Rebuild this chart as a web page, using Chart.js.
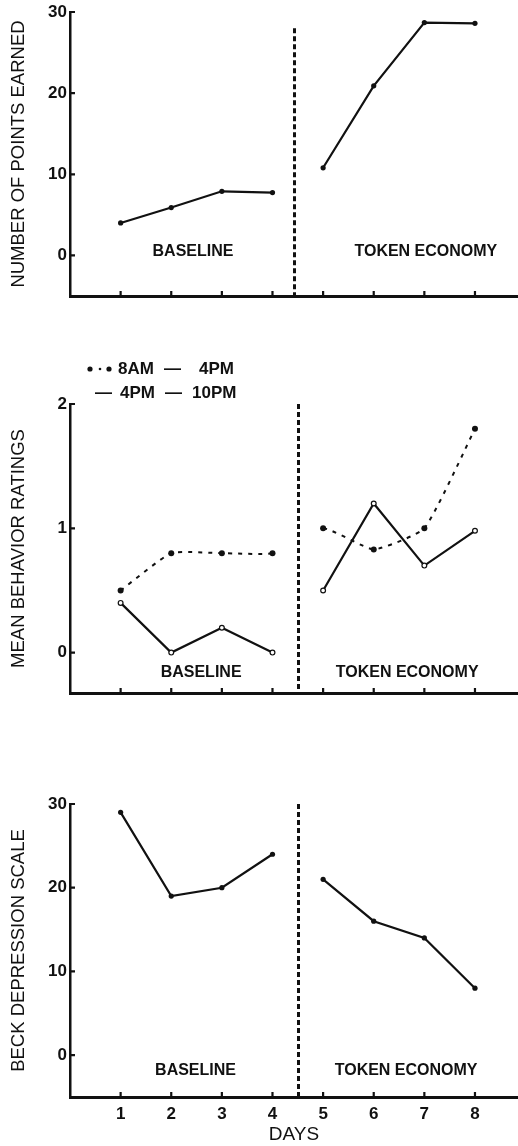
<!DOCTYPE html>
<html>
<head>
<meta charset="utf-8">
<script src="https://cdn.jsdelivr.net/npm/chart.js@4.4.1/dist/chart.umd.min.js"></script>
<style>
  html, body { margin: 0; padding: 0; background: #fff; }
  body { width: 518px; height: 1146px; position: relative; overflow: hidden; }
  canvas { position: absolute; left: 0; }
</style>
</head>
<body>
<canvas id="pointsChart" width="518" height="330" style="top:0px"></canvas>
<canvas id="ratingsChart" width="518" height="390" style="top:330px"></canvas>
<canvas id="beckChart" width="518" height="426" style="top:720px"></canvas>
<script>
// ---- data ----
const days = [1, 2, 3, 4, 5, 6, 7, 8];
const pointsEarned = [4.0, 5.9, 7.9, 7.75, 10.8, 20.9, 28.7, 28.6];
const ratingsDaytime = [0.5, 0.8, 0.8, 0.8, 1.0, 0.83, 1.0, 1.8];   // 8AM - 4PM
const ratingsEvening = [0.4, 0.0, 0.2, 0.0, 0.5, 1.2, 0.7, 0.98];   // 4PM - 10PM
const beckScores = [29, 19, 20, 24, 21, 16, 14, 8];
const pointsTicks = [0, 10, 20, 30];
const ratingsTicks = [0, 1, 2];
const beckTicks = [0, 10, 20, 30];
const phaseNames = ['BASELINE', 'TOKEN ECONOMY'];
const legendRows = [['8AM', '—', '4PM'], ['—', '4PM', '—', '10PM']];

const INK = '#111';
const FONT = '"Liberation Sans", Arial, Helvetica, sans-serif';
const LAST_BASELINE = 3; // index of the last baseline day

const toXY = arr => days.map((d, i) => ({ x: d, y: arr[i] }));
const phaseGap = { borderColor: c => c.p0DataIndex === LAST_BASELINE ? 'rgba(0,0,0,0)' : undefined };

// Phase divider, inward tick marks, phase captions and the time-of-day key
const panelDecor = {
  id: 'panelDecor',
  afterDraw(chart, args, o) {
    const { ctx, chartArea: a, scales: { x, y } } = chart;
    ctx.save();
    ctx.strokeStyle = INK;
    ctx.fillStyle = INK;

    // inward ticks
    ctx.lineWidth = 2.2;
    ctx.beginPath();
    o.yTicks.forEach(v => {
      const py = y.getPixelForValue(v);
      ctx.moveTo(a.left, py); ctx.lineTo(a.left + 5, py);
    });
    days.forEach(d => {
      const px = x.getPixelForValue(d);
      ctx.moveTo(px, a.bottom); ctx.lineTo(px, a.bottom - 5);
    });
    ctx.stroke();

    // phase change line
    const dx = Math.round(x.getPixelForValue(o.dividerX)) + 0.5;
    ctx.lineWidth = 3;
    ctx.setLineDash([5, 3]);
    ctx.beginPath();
    ctx.moveTo(dx, y.getPixelForValue(o.dividerTop));
    ctx.lineTo(dx, a.bottom);
    ctx.stroke();
    ctx.setLineDash([]);

    // phase captions
    ctx.font = 'bold 16px ' + FONT;
    ctx.textAlign = 'center';
    ctx.textBaseline = 'middle';
    o.captions.forEach((c, i) => {
      ctx.fillText(phaseNames[i], x.getPixelForValue(c.x), y.getPixelForValue(c.y));
    });

    // key for the two rating periods
    if (o.key) {
      ctx.font = 'bold 17px ' + FONT;
      ctx.textAlign = 'left';
      const r1 = o.key.row1, r2 = o.key.row2;
      // dotted-series marker
      [[90, 2.6], [100, 1.3], [109, 2.6]].forEach(([cx, r]) => {
        ctx.beginPath(); ctx.arc(cx, r1.y, r, 0, Math.PI * 2); ctx.fill();
      });
      legendRows[0].forEach((t, i) => ctx.fillText(t, r1.xs[i], r1.y));
      legendRows[1].forEach((t, i) => ctx.fillText(t, r2.xs[i], r2.y));
    }
    ctx.restore();
  }
};

function scales(yMin, yMax, yTicks, yTitle, xAxisHeight, showDays) {
  return {
    x: {
      type: 'linear', min: 0, max: 8.85,
      afterBuildTicks: s => { s.ticks = days.map(v => ({ value: v })); },
      afterFit: s => { s.height = xAxisHeight; },
      grid: { display: false, drawTicks: false },
      border: { display: true, width: 3, color: INK },
      ticks: { display: showDays, color: INK, padding: 7, font: { family: FONT, size: 17, weight: 'bold' } },
      title: {
        display: showDays, text: 'DAYS', color: INK,
        font: { family: FONT, size: 19 }, padding: { top: 0, bottom: 0 }
      }
    },
    y: {
      min: yMin, max: yMax,
      afterBuildTicks: s => { s.ticks = yTicks.map(v => ({ value: v })); },
      afterFit: s => { s.width = 70; },
      grid: { display: false, drawTicks: false },
      border: { display: true, width: 2.5, color: INK },
      ticks: { color: INK, padding: 3, font: { family: FONT, size: 17, weight: 'bold', lineHeight: 1 } },
      title: {
        display: true, text: yTitle, color: INK,
        font: { family: FONT, size: 18.5 }, padding: { top: 8, bottom: 0 }
      }
    }
  };
}

const common = {
  responsive: false,
  animation: false,
  events: [],
  plugins: { legend: { display: false }, tooltip: { enabled: false } }
};

const solidLine = {
  borderColor: INK, borderWidth: 2.2, pointRadius: 2.6,
  pointBackgroundColor: INK, pointBorderColor: INK, pointBorderWidth: 0,
  tension: 0, segment: phaseGap
};

// Points earned
new Chart(document.getElementById('pointsChart'), {
  type: 'line',
  data: { datasets: [{ ...solidLine, data: toXY(pointsEarned) }] },
  options: {
    ...common,
    layout: { autoPadding: false, padding: { top: 12, right: 0, bottom: 0, left: 0 } },
    scales: scales(-5, 30, pointsTicks, 'NUMBER OF POINTS EARNED', 34, false),
    plugins: {
      ...common.plugins,
      panelDecor: { yTicks: pointsTicks, dividerX: 4.42, dividerTop: 28,
        captions: [{ x: 2.43, y: 0.5 }, { x: 7.03, y: 0.5 }] }
    }
  },
  plugins: [panelDecor]
});

// Mean behavior ratings
new Chart(document.getElementById('ratingsChart'), {
  type: 'line',
  data: {
    datasets: [
      { borderColor: INK, borderWidth: 2, borderDash: [4, 6], pointRadius: 3,
        pointBackgroundColor: INK, pointBorderWidth: 0, tension: 0.15, segment: phaseGap,
        data: toXY(ratingsDaytime) },
      { borderColor: INK, borderWidth: 2.2, pointRadius: 2.4, pointBackgroundColor: '#fff',
        pointBorderColor: INK, pointBorderWidth: 1.2, tension: 0, segment: phaseGap,
        data: toXY(ratingsEvening) }
    ]
  },
  options: {
    ...common,
    layout: { autoPadding: false, padding: { top: 74, right: 0, bottom: 0, left: 0 } },
    scales: scales(-0.325, 2, ratingsTicks, 'MEAN BEHAVIOR RATINGS', 27, false),
    plugins: {
      ...common.plugins,
      panelDecor: { yTicks: ratingsTicks, dividerX: 4.5, dividerTop: 2,
        captions: [{ x: 2.59, y: -0.16 }, { x: 6.66, y: -0.16 }],
        key: { row1: { y: 39, xs: [118, 164, 199] }, row2: { y: 63, xs: [95, 120, 165, 192] } } }
    }
  },
  plugins: [panelDecor]
});

// Beck depression scale
new Chart(document.getElementById('beckChart'), {
  type: 'line',
  data: { datasets: [{ ...solidLine, data: toXY(beckScores) }] },
  options: {
    ...common,
    layout: { autoPadding: false, padding: { top: 84, right: 0, bottom: 0, left: 0 } },
    scales: scales(-5, 30, beckTicks, 'BECK DEPRESSION SCALE', 49, true),
    plugins: {
      ...common.plugins,
      panelDecor: { yTicks: beckTicks, dividerX: 4.5, dividerTop: 30,
        captions: [{ x: 2.48, y: -1.8 }, { x: 6.64, y: -1.8 }] }
    }
  },
  plugins: [panelDecor]
});
</script>
</body>
</html>
